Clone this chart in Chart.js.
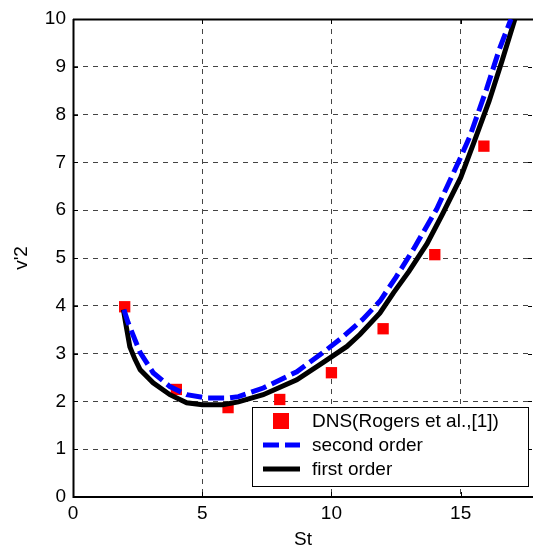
<!DOCTYPE html>
<html>
<head>
<meta charset="utf-8">
<script src="https://cdn.jsdelivr.net/npm/chart.js@4.4.1/dist/chart.umd.min.js"></script>
<style>
  html, body { margin: 0; padding: 0; background: #fff; }
  #wrap { width: 533px; height: 551px; }
</style>
</head>
<body>
<div id="wrap"><canvas id="graficoSt"></canvas></div>
<script>
// DNS reference points (Rogers et al.)
var dnsSt = [2, 4, 6, 8, 10, 12, 14, 15.9];
var dnsV2 = [3.98, 2.25, 1.87, 2.04, 2.6, 3.52, 5.07, 7.34];

// second order model
var segSt = [1.97, 2.13, 2.6, 3.1, 3.75, 4.4, 5.2, 5.95, 6.4, 7.36, 8.66, 9.67, 10.4, 11.2, 11.88, 12.5, 13.17, 14.07, 14.97, 15.36, 16.0, 16.5, 16.95];
var segV2 = [3.92, 3.65, 3.02, 2.6, 2.31, 2.14, 2.07, 2.07, 2.1, 2.28, 2.62, 3.02, 3.33, 3.71, 4.1, 4.6, 5.18, 6.02, 7.07, 7.55, 8.53, 9.37, 10.0];

// first order model
var primSt = [1.95, 2.05, 2.2, 2.4, 2.6, 3.1, 3.75, 4.4, 5.0, 5.8, 6.4, 7.36, 8.66, 9.67, 10.6, 11.1, 11.88, 12.4, 13.0, 13.7, 14.3, 15.0, 15.5, 16.1, 16.6, 17.1];
var primV2 = [3.92, 3.6, 3.14, 2.88, 2.66, 2.39, 2.14, 1.97, 1.93, 1.93, 1.99, 2.14, 2.45, 2.81, 3.15, 3.4, 3.85, 4.27, 4.72, 5.3, 5.92, 6.68, 7.4, 8.28, 9.12, 10.0];

var xTicks = [0, 5, 10, 15];
var yTicks = [0, 1, 2, 3, 4, 5, 6, 7, 8, 9, 10];

var FONTE = 'Arial, "Liberation Sans", sans-serif';

function pares(xs, ys) {
	return xs.map(function(x, i) { return { x: x, y: ys[i] }; });
}

// solid frame, inward tick marks and the boxed legend in the lower right
var molduraPlugin = {
	id: 'moldura',
	beforeDatasetsDraw: function(chart) {
		var ctx = chart.ctx, a = chart.chartArea;
		var sx = chart.scales.x, sy = chart.scales.y;
		ctx.save();
		ctx.strokeStyle = '#000';
		ctx.lineWidth = 1;
		ctx.beginPath();
		xTicks.forEach(function(v) {
			var px = Math.round(sx.getPixelForValue(v)) + 0.5;
			ctx.moveTo(px, a.bottom); ctx.lineTo(px, a.bottom - 5);
			ctx.moveTo(px, a.top); ctx.lineTo(px, a.top + 5);
		});
		yTicks.forEach(function(v) {
			var py = Math.round(sy.getPixelForValue(v)) + 0.5;
			ctx.moveTo(a.left, py); ctx.lineTo(a.left + 5, py);
			ctx.moveTo(a.right - 1, py); ctx.lineTo(a.right - 5, py);
		});
		ctx.stroke();
		ctx.lineWidth = 2;
		ctx.beginPath();
		ctx.moveTo(a.left + 0.5, a.top);
		ctx.lineTo(a.left + 0.5, a.bottom);
		ctx.lineTo(a.right, a.bottom);
		ctx.moveTo(a.left, a.top + 0.5);
		ctx.lineTo(a.right, a.top + 0.5);
		ctx.stroke();
		ctx.restore();
	},
	afterDatasetsDraw: function(chart) {
		var ctx = chart.ctx;
		var box = { x: 252.5, y: 407.5, w: 276, h: 79 };
		ctx.save();
		ctx.fillStyle = '#fff';
		ctx.fillRect(box.x, box.y, box.w, box.h);
		ctx.strokeStyle = '#000';
		ctx.lineWidth = 1;
		ctx.strokeRect(box.x, box.y, box.w, box.h);

		var ds = chart.data.datasets;
		var linhas = [421, 445, 469];
		ctx.font = '19px ' + FONTE;
		ctx.textBaseline = 'middle';

		// DNS marker
		ctx.fillStyle = ds[0].backgroundColor;
		ctx.fillRect(273, linhas[0] - 8, 16, 16);
		// model samples
		[1, 2].forEach(function(i) {
			ctx.beginPath();
			ctx.strokeStyle = ds[i].borderColor;
			ctx.lineWidth = ds[i].borderWidth;
			ctx.setLineDash(ds[i].borderDash || []);
			ctx.moveTo(263, linhas[i]);
			ctx.lineTo(300, linhas[i]);
			ctx.stroke();
		});
		ctx.setLineDash([]);
		ctx.fillStyle = '#000';
		ds.forEach(function(d, i) {
			ctx.fillText(d.label, 312, linhas[i] + 1);
		});
		ctx.restore();
	}
};

var ctx = document.getElementById('graficoSt').getContext('2d');

var grafico = new Chart(ctx, {
	type: 'scatter',
	data: {
		datasets: [{
			label: 'DNS(Rogers et al.,[1])',
			data: pares(dnsSt, dnsV2),
			backgroundColor: '#ff0000',
			borderColor: '#ff0000',
			pointStyle: 'rect',
			pointRadius: 8,
			borderWidth: 0,
			showLine: false,
			order: 3
		}, {
			label: 'second order',
			data: pares(segSt, segV2),
			borderColor: '#0000ff',
			borderWidth: 5,
			borderDash: [16, 6],
			pointRadius: 0,
			showLine: true,
			tension: 0,
			order: 1
		}, {
			label: 'first order',
			data: pares(primSt, primV2),
			borderColor: '#000000',
			borderWidth: 5,
			pointRadius: 0,
			showLine: true,
			tension: 0,
			order: 2
		}]
	},
	options: {
		responsive: true,
		maintainAspectRatio: false,
		animation: false,
		layout: {
			autoPadding: false,
			padding: { top: 19, right: 0, left: 0, bottom: 0 }
		},
		plugins: {
			legend: { display: false },
			tooltip: { enabled: false }
		},
		scales: {
			x: {
				type: 'linear',
				min: 0,
				max: 17.8,
				afterFit: function(s) {
					s.height = 54;
					s.paddingLeft = 0;
					s.paddingRight = 0;
				},
				afterBuildTicks: function(s) {
					s.ticks = xTicks.map(function(v) { return { value: v }; });
				},
				ticks: {
					color: '#000',
					padding: 5,
					maxRotation: 0,
					autoSkip: false,
					font: { family: FONTE, size: 19 }
				},
				grid: {
					drawTicks: false,
					color: function(c) {
						var v = c.tick && c.tick.value;
						return (v === 0) ? 'rgba(0,0,0,0)' : '#444';
					},
					lineWidth: 1
				},
				border: { display: false, dash: [5, 5] },
				title: {
					display: true,
					text: 'St',
					color: '#000',
					font: { family: FONTE, size: 19 },
					padding: { top: 0, bottom: 0 }
				}
			},
			y: {
				type: 'linear',
				min: 0,
				max: 10,
				afterFit: function(s) {
					s.width = 73;
					s.paddingTop = 0;
					s.paddingBottom = 0;
				},
				afterBuildTicks: function(s) {
					s.ticks = yTicks.map(function(v) { return { value: v }; });
				},
				ticks: {
					color: '#000',
					padding: 7,
					autoSkip: false,
					font: { family: FONTE, size: 19 }
				},
				grid: {
					drawTicks: false,
					color: function(c) {
						var v = c.tick && c.tick.value;
						return (v === 0 || v === 10) ? 'rgba(0,0,0,0)' : '#444';
					},
					lineWidth: 1
				},
				border: { display: false, dash: [5, 5] },
				title: {
					display: true,
					text: "v'2",
					color: '#000',
					font: { family: FONTE, size: 19 },
					padding: { top: 10, bottom: 0 }
				}
			}
		}
	},
	plugins: [molduraPlugin]
});
</script>
</body>
</html>
